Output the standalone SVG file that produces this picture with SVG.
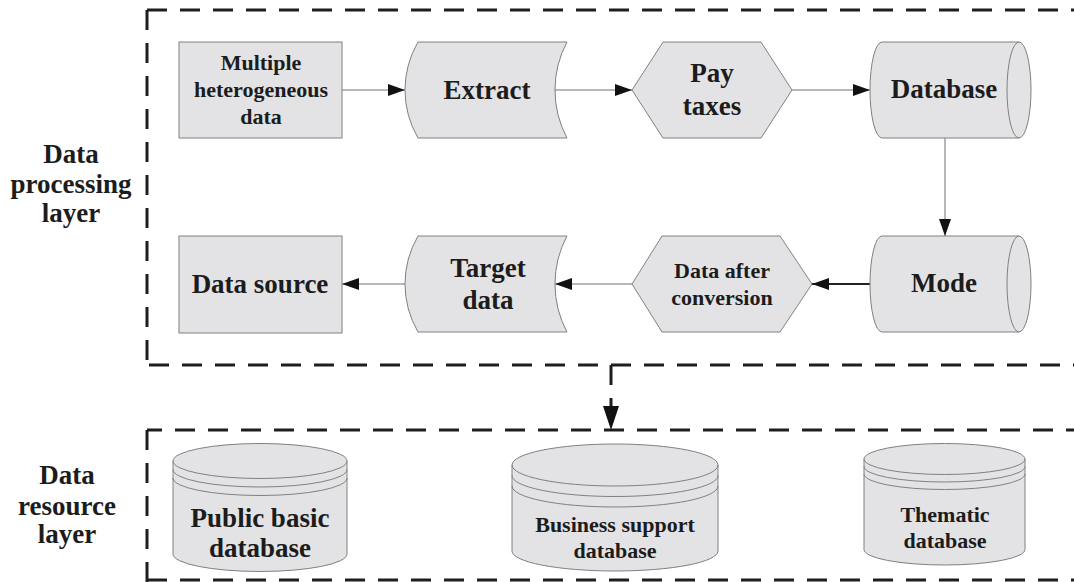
<svg xmlns="http://www.w3.org/2000/svg" width="1074" height="582" viewBox="0 0 1074 582">
<style>
.n{fill:#e3e3e5;stroke:#808080;stroke-width:1}
.ln{fill:none;stroke:#808080;stroke-width:1}
.t27{font-family:"Liberation Serif",serif;font-weight:bold;font-size:27px;text-anchor:middle;fill:#1c1c1c}
.t22{font-family:"Liberation Serif",serif;font-weight:bold;font-size:22px;text-anchor:middle;fill:#1c1c1c}
.dash{fill:none;stroke:#1e1e1e;stroke-width:3;stroke-dasharray:20 13}
.c{fill:none;stroke:#707070;stroke-width:1;marker-end:url(#arr)}
</style>
<defs>
<marker id="arr" markerUnits="userSpaceOnUse" viewBox="0 0 17 12" refX="17" refY="6" markerWidth="17" markerHeight="12" orient="auto">
<path d="M0,0 L17,6 L0,12 Z" fill="#111"/>
</marker>
<marker id="arrBig" markerUnits="userSpaceOnUse" viewBox="0 0 24 16" refX="24" refY="8" markerWidth="24" markerHeight="16" orient="auto">
<path d="M0,0 L24,8 L0,16 Z" fill="#111"/>
</marker>
</defs>
<rect width="1074" height="582" fill="#fff"/>

<g id="layers">
<path class="dash" d="M147,10 H1090"/>
<path class="dash" d="M147,10 V365"/>
<path class="dash" d="M147,365 H1090" stroke-dashoffset="31"/>
<path class="dash" d="M147,430 H1090" stroke-dashoffset="5"/>
<path class="dash" d="M147,430 V582"/>
<path class="dash" d="M147,580 H1090"/>
<text class="t27" x="71" y="163">Data</text>
<text class="t27" x="71" y="193">processing</text>
<text class="t27" x="71" y="222">layer</text>
<text class="t27" x="67" y="484">Data</text>
<text class="t27" x="67" y="515">resource</text>
<text class="t27" x="67" y="543">layer</text>
</g>

<g id="connectors">
<path class="c" d="M342,90 H405"/>
<path class="c" d="M555,90 H632"/>
<path class="c" d="M792,90 H870"/>
<path class="c" d="M945,138 V236"/>
<path class="c" d="M870,284 H812" style="stroke:#222;stroke-width:2"/>
<path class="c" d="M632,284 H555"/>
<path class="c" d="M405,284 H342"/>
<path d="M611,365 V430" fill="none" stroke="#1e1e1e" stroke-width="3" stroke-dasharray="20 13" marker-end="url(#arrBig)"/>
</g>

<g id="multiple">
<rect class="n" x="179" y="42" width="163" height="96"/>
<text class="t22" x="261" y="70">Multiple</text>
<text class="t22" x="261" y="97">heterogeneous</text>
<text class="t22" x="261" y="124">data</text>
</g>

<g id="extract">
<path class="n" d="M418,42 L567,42 A102,102 0 0 0 567,138 L418,138 A95,95 0 0 1 418,42 Z"/>
<text class="t27" x="487" y="99">Extract</text>
</g>

<g id="paytaxes">
<polygon class="n" points="632,90 663,42 761,42 792,90 761,138 663,138"/>
<text class="t27" x="712" y="82">Pay</text>
<text class="t27" x="712" y="115">taxes</text>
</g>

<g id="database">
<path class="n" d="M882,42 L1019,42 A12,48 0 0 1 1019,138 L882,138 A12,48 0 0 1 882,42 Z"/>
<path class="ln" d="M1019,42 A12,48 0 0 0 1019,138"/>
<text class="t27" x="944" y="98">Database</text>
</g>

<g id="mode">
<path class="n" d="M882,236 L1019,236 A12,48 0 0 1 1019,332 L882,332 A12,48 0 0 1 882,236 Z"/>
<path class="ln" d="M1019,236 A12,48 0 0 0 1019,332"/>
<text class="t27" x="944" y="292">Mode</text>
</g>

<g id="conversion">
<polygon class="n" points="632,284 662,236 780,236 812,284 780,332 662,332"/>
<text class="t22" x="722" y="278">Data after</text>
<text class="t22" x="722" y="305">conversion</text>
</g>

<g id="target">
<path class="n" d="M418,236 L567,236 A102,102 0 0 0 567,332 L418,332 A95,95 0 0 1 418,236 Z"/>
<text class="t27" x="488" y="277">Target</text>
<text class="t27" x="488" y="309">data</text>
</g>

<g id="datasource">
<rect class="n" x="179" y="236" width="163" height="97"/>
<text class="t27" x="260" y="293">Data source</text>
</g>

<g id="public">
<path class="n" d="M173,461 A87,17.5 0 0 1 347,461 V554 A87,17.5 0 0 1 173,554 Z"/>
<path class="ln" d="M173,461 A87,17.5 0 0 0 347,461 M173,469.5 A87,17.5 0 0 0 347,469.5 M173,478 A87,17.5 0 0 0 347,478"/>
<text class="t27" x="260" y="527">Public basic</text>
<text class="t27" x="260" y="557">database</text>
</g>

<g id="business">
<path class="n" d="M512,465 A103,21 0 0 1 718,465 V551 A103,20 0 0 1 512,551 Z"/>
<path class="ln" d="M512,465 A103,21 0 0 0 718,465 M512,475.5 A103,21 0 0 0 718,475.5 M512,486 A103,21 0 0 0 718,486"/>
<text class="t22" x="615" y="532">Business support</text>
<text class="t22" x="615" y="558">database</text>
</g>

<g id="thematic">
<path class="n" d="M864,459 A80.5,15.5 0 0 1 1025,459 V549.5 A80.5,15.5 0 0 1 864,549.5 Z"/>
<path class="ln" d="M864,459 A80.5,15.5 0 0 0 1025,459 M864,466.5 A80.5,15.5 0 0 0 1025,466.5 M864,474 A80.5,15.5 0 0 0 1025,474"/>
<text class="t22" x="945" y="522">Thematic</text>
<text class="t22" x="945" y="548">database</text>
</g>
</svg>
